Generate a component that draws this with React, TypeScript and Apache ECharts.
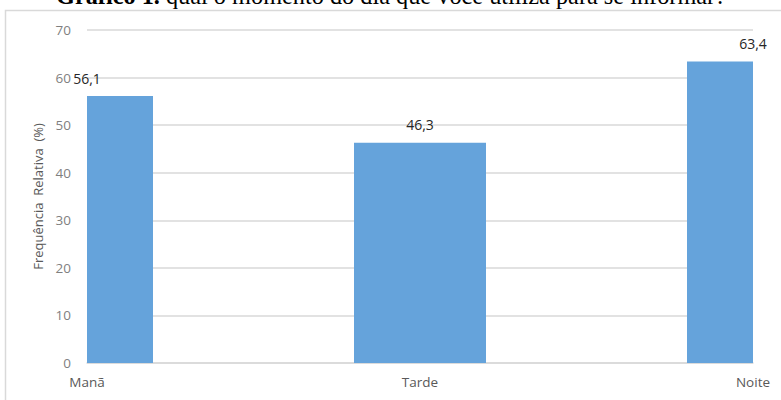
import React, { useEffect, useRef } from "react";
import * as echarts from "echarts";

const periods = ["Manã", "Tarde", "Noite"];
const frequencies = [56.1, 46.3, 63.4];
const yTicks = { min: 0, max: 70, interval: 10 };
const titleBold = "Gráfico 1.";
const titleRest = " qual o momento do dia que você utiliza para se informar?";
const yAxisTitle = "Frequência  Relativa  (%)";

const BAR_COLOR = "#65a3db";
const BAR_WIDTH = 132;

const fmt = (v: number) => v.toFixed(1).replace(".", ",");

export default function App() {
  const ref = useRef<HTMLDivElement>(null);

  useEffect(() => {
    if (!ref.current) return;
    const chart = echarts.init(ref.current, null, { renderer: "svg" });
    const barData = periods.map((_, i) => [i, frequencies[i]]);

    // Bars sit on category points (no boundary gap), so the outer ones are
    // trimmed to the plotting area by hand.
    const renderBar = (params: any, api: any) => {
      const idx = api.value(0);
      const val = api.value(1);
      const top = api.coord([idx, val]);
      const base = api.coord([idx, 0]);
      const cs = params.coordSys;
      const shape = echarts.graphic.clipRectByRect(
        { x: top[0] - BAR_WIDTH / 2, y: top[1], width: BAR_WIDTH, height: base[1] - top[1] },
        { x: cs.x, y: cs.y, width: cs.width, height: cs.height }
      );
      return {
        type: "group",
        children: [
          { type: "rect", shape, style: { fill: BAR_COLOR } },
          {
            type: "text",
            x: top[0],
            y: top[1] - 11,
            z2: 10,
            style: {
              text: fmt(val),
              align: "center",
              verticalAlign: "bottom",
              fill: "#262626",
              fontFamily: "Open Sans",
              fontSize: 14,
            },
          },
        ],
      };
    };

    chart.setOption({
      animation: false,
      backgroundColor: "#ffffff",
      grid: { left: 87, right: 28, top: 30, bottom: 37 },
      graphic: [
        {
          type: "rect",
          shape: { x: 5.5, y: 10.5, width: 800, height: 420 },
          style: { fill: "none", stroke: "#d9d9d9", lineWidth: 1.5 },
          silent: true,
        },
        {
          type: "text",
          x: 56,
          y: 7,
          style: {
            text: `{b|${titleBold}}{r|${titleRest}}`,
            verticalAlign: "bottom",
            rich: {
              b: { fontFamily: "Liberation Serif", fontWeight: "bold", fontSize: 24.3, fill: "#000" },
              r: { fontFamily: "Liberation Serif", fontSize: 24.3, fill: "#000" },
            },
          },
        },
      ],
      xAxis: {
        type: "category",
        data: periods,
        boundaryGap: false,
        axisLine: { lineStyle: { color: "#d9d9d9", width: 1.5 } },
        axisTick: { show: false },
        axisLabel: {
          color: "#595959",
          fontFamily: "Open Sans",
          fontSize: 13.5,
          margin: 12,
        },
        splitLine: { show: false },
      },
      yAxis: {
        type: "value",
        min: yTicks.min,
        max: yTicks.max,
        interval: yTicks.interval,
        name: yAxisTitle,
        nameLocation: "middle",
        nameGap: 42,
        nameTextStyle: { color: "#595959", fontFamily: "Open Sans", fontSize: 13 },
        axisLine: { show: false },
        axisTick: { show: false },
        axisLabel: { color: "#7f7f7f", fontFamily: "Open Sans", fontSize: 13.5, margin: 16 },
        splitLine: { lineStyle: { color: "#d9d9d9", width: 1.5 } },
      },
      series: [
        {
          type: "custom",
          data: barData,
          encode: { x: 0, y: 1 },
          renderItem: renderBar,
          z: 3,
        },
      ],
    });
    return () => chart.dispose();
  }, []);

  return (
    <div
      ref={ref}
      style={{ position: "fixed", left: 0, top: 0, width: 781, height: 400, background: "#fff" }}
    />
  );
}
